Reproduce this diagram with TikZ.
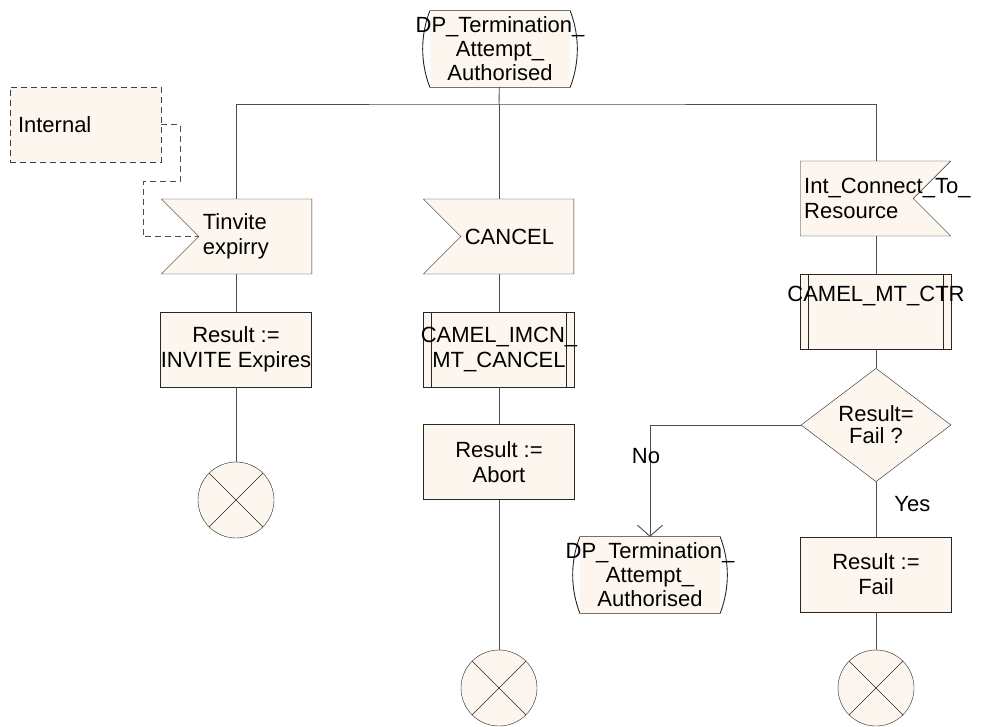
\documentclass[tikz,border=0pt]{standalone}
\usepackage{fontspec}
\setmainfont{Liberation Sans}
\definecolor{SDLFILL}{HTML}{FDF6EE}
\usetikzlibrary{arrows.meta,shapes.geometric,shapes.symbols}
\newcommand{\wide}[1]{\makebox[0pt]{#1}}

\begin{document}
\begin{tikzpicture}[x=1pt, y=-1pt,
  %% State symbols — cream fill, bulged sides drawn after the node
  sbox/.style={
    fill=SDLFILL, rectangle, minimum width=140pt, minimum height=76pt,
    align=center, font=\fontsize{22pt}{24pt}\selectfont, inner sep=0pt,
    append after command={\pgfextra{
      \draw[black!85, line width=0.9pt]
        (\tikzlastnode.north west) -- (\tikzlastnode.north east)
        .. controls +(9.5,25) and +(9.5,-25) .. (\tikzlastnode.south east)
        -- (\tikzlastnode.south west)
        .. controls +(-9.5,-25) and +(-9.5,25) .. (\tikzlastnode.north west);
    }}
  },
  %% Input signal symbols — notch on one side
  ibox/.style={
    draw=black!85, fill=SDLFILL, signal, signal from=west, signal to=nowhere,
    minimum height=75pt, text width=105pt,
    align=left, font=\fontsize{22pt}{25pt}\selectfont, inner sep=4pt
  },
  %% Task boxes
  tbox/.style={
    draw=black!85, fill=SDLFILL, rectangle,
    minimum width=151pt, minimum height=75pt,
    align=center, font=\fontsize{22pt}{25pt}\selectfont, inner sep=0pt
  },
  %% Procedure call boxes — double side bars
  pbox/.style={
    tbox,
    path picture={
      \draw[black!85] ([xshift=8pt]path picture bounding box.north west)
        -- ([xshift=8pt]path picture bounding box.south west)
        ([xshift=-8pt]path picture bounding box.north east)
        -- ([xshift=-8pt]path picture bounding box.south east);
    }
  },
  %% Decision
  dbox/.style={
    draw=black!85, fill=SDLFILL, diamond,
    minimum width=150pt, minimum height=76pt,
    align=center, font=\fontsize{22pt}{22pt}\selectfont, inner sep=0pt
  },
  %% Stop symbols
  ebox/.style={
    draw=black!85, fill=SDLFILL, circle, minimum size=76pt, inner sep=0pt,
    path picture={
      \draw[black!85] (path picture bounding box.north west)
        -- (path picture bounding box.south east)
        (path picture bounding box.north east)
        -- (path picture bounding box.south west);
    }
  },
  %% Comment box — dashed
  cbox/.style={
    draw=black!75, dash pattern=on 6pt off 4pt, fill=SDLFILL, rectangle,
    minimum width=151pt, minimum height=75pt, text width=135pt,
    align=left, font=\fontsize{22pt}{25pt}\selectfont, inner sep=8pt
  },
  lbl/.style={font=\fontsize{22pt}{25pt}\selectfont, inner sep=0pt},
  conn/.style={draw=black!70, line width=0.9pt},
  darr/.style={conn, dash pattern=on 6pt off 4pt},
  arr/.style={conn, -{Straight Barb[length=11pt, width=25pt]}}
]
\useasboundingbox (0,0) rectangle (981,726);

%% ── Start state ──────────────────────────────────────────────
\node[sbox] (start) at (500, 49) {\wide{DP\_Termination\_}\\Attempt\_\\Authorised};
\coordinate (fork) at (499, 104);

%% ── Comment ──────────────────────────────────────────────────
\node[cbox] (intl) at (85.5, 124.5) {Internal};

%% ── Left branch ──────────────────────────────────────────────
\node[ibox, anchor=east] (tinv) at (312, 236.5) {Tinvite\\expirry};
\node[tbox] (res1) at (236, 349.5) {Result :=\\\wide{INVITE Expires}};
\node[ebox] (end1) at (236, 500) {};

%% ── Middle branch ────────────────────────────────────────────
\node[ibox, anchor=east] (canc) at (574, 236.5) {CANCEL};
\node[pbox] (imcn) at (499, 349.5) {\wide{CAMEL\_IMCN\_}\\MT\_CANCEL};
\node[tbox] (res2) at (499, 462) {Result :=\\Abort};
\node[ebox] (end2) at (499, 688) {};

%% ── Right branch ─────────────────────────────────────────────
\node[ibox, signal from=east, anchor=west] (intc) at (800, 198.5)
  {Int\_Connect\_To\_\\Resource};
\node[pbox] (mtctr) at (876, 311.5) {\wide{CAMEL\_MT\_CTR}\\[2pt]\strut};
\node[dbox] (dec) at (876, 425) {Result=\\Fail ?};
\node[sbox] (st2) at (650, 575)
  {\wide{DP\_Termination\_}\\Attempt\_\\Authorised};
\node[tbox] (res3) at (876, 574.5) {Result :=\\Fail};
\node[ebox] (end3) at (876, 688) {};

%% ── Connectors ───────────────────────────────────────────────
\draw[conn] (start) -- (fork);
\draw[conn] (tinv.north -| res1) |- (fork) -| (intc.north -| mtctr);
\draw[conn] (fork) -- (canc.north -| imcn);
\draw[darr] (intl.east) -- ++(19,0) -- ++(0,57) -- ++(-37,0) |- (tinv.west);

\draw[conn] (tinv.south -| res1) -- (res1);
\draw[conn] (res1) -- (end1);

\draw[conn] (canc.south -| imcn) -- (imcn);
\draw[conn] (imcn) -- (res2);
\draw[conn] (res2) -- (end2);

\draw[conn] (intc.south -| mtctr) -- (mtctr);
\draw[conn] (mtctr) -- (dec);
\draw[arr] (dec.west) -| node[lbl, pos=0.64, xshift=-4pt] {No} (st2.north);
\draw[conn] (dec.south) -- node[lbl, pos=0.4, right=18pt] {Yes} (res3);
\draw[conn] (res3) -- (end3);

\end{tikzpicture}
\end{document}
